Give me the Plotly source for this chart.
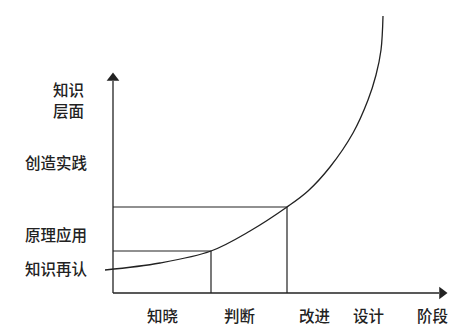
import plotly.graph_objects as go

# Stage (x) axis labels and their positions
stage_labels = ["知晓", "判断", "改进", "设计", "阶段"]
stage_x = [49, 126, 202, 255, 319]

# Knowledge level (y) labels and their positions
level_labels = ["知识再认", "原理应用", "创造实践"]
level_y = [25, 59, 131]
axis_title = ["知识", "层面"]
axis_title_y = [204, 183]

# Growth curve points
curve_x = [-8, 47, 98, 137, 174, 195, 217, 240, 255, 263, 268, 270]
curve_y = [23, 30, 42, 62, 86, 102, 126, 160, 193, 218, 243, 277]

# Guide points on the curve (vertical + horizontal drop lines)
guide_x = [98, 174]
guide_y = [42, 86]

x_axis_end = 334
y_axis_end = 220

ink = "#222222"
font = dict(family="Noto Sans CJK SC", size=15.5, color=ink, weight=500)

fig = go.Figure()

# axes
fig.add_trace(go.Scatter(x=[0, x_axis_end - 8], y=[0, 0], mode="lines",
                         line=dict(color=ink, width=1.3), hoverinfo="skip"))
fig.add_trace(go.Scatter(x=[0, 0], y=[0, y_axis_end - 8], mode="lines",
                         line=dict(color=ink, width=1.3), hoverinfo="skip"))
fig.add_trace(go.Scatter(x=[x_axis_end - 5], y=[0], mode="markers",
                         marker=dict(symbol="triangle-right", size=11, color=ink),
                         hoverinfo="skip"))
fig.add_trace(go.Scatter(x=[0], y=[y_axis_end - 5], mode="markers",
                         marker=dict(symbol="triangle-up", size=11, color=ink),
                         hoverinfo="skip"))

# guide lines
for gx, gy in zip(guide_x, guide_y):
    fig.add_trace(go.Scatter(x=[0, gx, gx], y=[gy, gy, 0], mode="lines",
                             line=dict(color=ink, width=1.2), hoverinfo="skip"))

# curve
fig.add_trace(go.Scatter(x=curve_x, y=curve_y, mode="lines",
                         line=dict(color=ink, width=1.3, shape="spline", smoothing=1.0),
                         hoverinfo="skip"))

for lab, sx in zip(stage_labels, stage_x):
    fig.add_annotation(x=sx, y=-22, text=lab, showarrow=False, font=font,
                       xanchor="center", yanchor="middle")
for lab, ly in zip(level_labels, level_y):
    fig.add_annotation(x=-57, y=ly, text=lab, showarrow=False, font=font,
                       xanchor="center", yanchor="middle")
for lab, ty in zip(axis_title, axis_title_y):
    fig.add_annotation(x=-45, y=ty, text=lab, showarrow=False, font=font,
                       xanchor="center", yanchor="middle")

fig.update_layout(
    width=468, height=333,
    margin=dict(l=0, r=0, t=0, b=0),
    paper_bgcolor="white", plot_bgcolor="white",
    showlegend=False,
    xaxis=dict(range=[-113, 355], visible=False, fixedrange=True),
    yaxis=dict(range=[-40, 293], visible=False, fixedrange=True),
)

fig.write_html("out.html")
